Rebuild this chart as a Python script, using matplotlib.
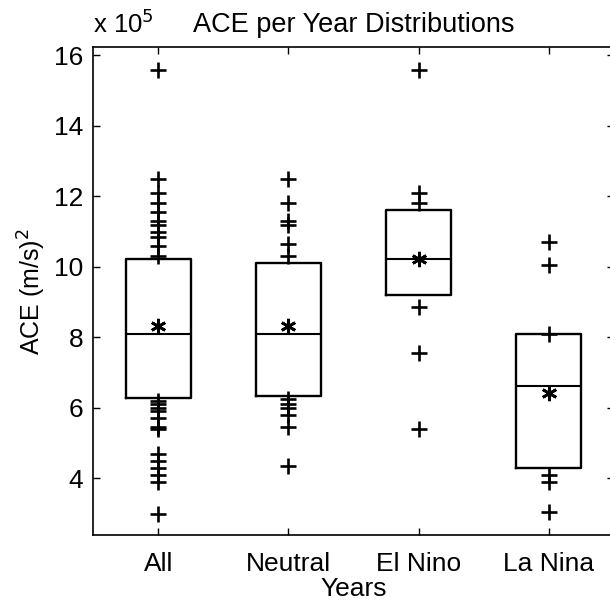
import matplotlib
matplotlib.use("Agg")
import matplotlib.pyplot as plt

# values in units of 1e5 (m/s)^2
groups = ["All", "Neutral", "El Nino", "La Nina"]
q1 = [6.28, 6.34, 9.21, 4.30]
med = [8.10, 8.10, 10.23, 6.62]
q3 = [10.22, 10.10, 11.62, 8.09]
means = [8.33, 8.33, 10.23, 6.42]

all_out = [15.6, 12.5, 12.1, 11.8, 11.55, 11.3, 11.2, 11.0, 10.85, 10.6, 10.3,
           6.2, 6.1, 6.0, 5.9, 5.7, 5.45, 5.4, 4.7, 4.5, 4.3, 4.1, 3.9, 3.0]
neutral_out = [12.5, 11.8, 11.3, 11.2, 10.65, 10.3,
               6.25, 6.1, 6.0, 5.8, 5.45, 4.35]
elnino_out = [15.6, 12.1, 11.8, 8.85, 7.55, 5.4]
lanina_out = [10.7, 10.05, 8.1, 4.1, 3.9, 3.05]
outliers = [all_out, neutral_out, elnino_out, lanina_out]

plt.rcParams['font.family'] = ['Liberation Sans', 'DejaVu Sans']
plt.rcParams['font.size'] = 18

stats = []
for i in range(len(groups)):
    stats.append(dict(label=groups[i], q1=q1[i], med=med[i], q3=q3[i],
                      whislo=q1[i], whishi=q3[i], mean=means[i],
                      fliers=outliers[i]))

fig = plt.figure(figsize=(6.1, 6.02), dpi=100)
ax = fig.add_axes([0.1525, 0.111, 0.854, 0.811])

ax.bxp(stats, positions=[1, 2, 3, 4], widths=0.5, showcaps=False,
       showmeans=True,
       boxprops=dict(color='black', linewidth=1.7),
       medianprops=dict(color='black', linewidth=1.5),
       whiskerprops=dict(linewidth=0),
       meanprops=dict(marker=(6, 2, 0), markeredgecolor='black',
                      markersize=11, markeredgewidth=2.0),
       flierprops=dict(marker='+', markeredgecolor='black',
                       markersize=12, markeredgewidth=1.9))

ax.set_xlim(0.5, 4.5)
ax.set_ylim(2.39, 16.24)
ax.set_yticks([4, 6, 8, 10, 12, 14, 16])
ax.set_xticks([1, 2, 3, 4])
ax.set_xticklabels(groups)
ax.tick_params(direction='in', top=True, right=True, length=5, width=1,
               labelsize=19)
ax.tick_params(axis='x', pad=12)
ax.tick_params(axis='y', pad=7)
for s in ax.spines.values():
    s.set_linewidth(1.2)

ax.set_title("ACE per Year Distributions", fontsize=19.5, pad=11)
ax.text(0.0, 1.029, r"x 10$^5$", transform=ax.transAxes, ha='left',
        va='baseline', fontsize=18.5)
ax.set_ylabel(r"ACE (m/s)$^2$", fontsize=18, labelpad=4)
ax.set_xlabel("Years", fontsize=19, labelpad=1)

fig.savefig("out.png", dpi=100)
